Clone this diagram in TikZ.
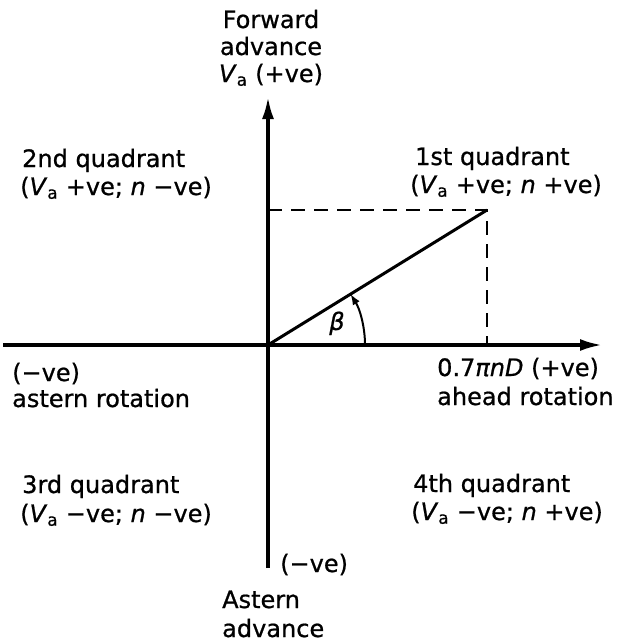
\documentclass[tikz,border=0pt]{standalone}
\usepackage{fontspec}
\setmainfont{DejaVu Sans}[RawFeature={embolden=0.8}]
\usetikzlibrary{arrows.meta,calc}
\begin{document}
\begin{tikzpicture}[x=1pt,y=-1pt,
  axis/.style={line width=3.2pt,-{Latex[length=22pt,width=12pt]}},
  guide/.style={line width=2.4pt,dash pattern=on 14pt off 9pt},
  lbl/.style={anchor=base west,inner sep=0pt,font=\fontsize{24}{28}\selectfont},
  clbl/.style={anchor=base,inner sep=0pt,font=\fontsize{24}{28}\selectfont}]
\useasboundingbox (0,0) rectangle (618,643);
\coordinate (O) at (268,345);
\coordinate (top) at (268,97);
\coordinate (bot) at (268,568);
\coordinate (left) at (3,345);
\coordinate (right) at (602,345);
\coordinate (P) at (487,210);
\coordinate (Py) at (268,210);
\coordinate (Px) at (487,345);
\draw[axis] (bot) -- (top);
\draw[axis] (left) -- (right);
\draw[guide] (Py) -- (P) -- (Px);
\draw[line width=3pt] (O) -- (P);
\draw[line width=2pt,-{Latex[length=11pt,width=8pt]}] ($(O)+(97,0)$) arc[start angle=0,end angle=-31.8,radius=97];
\node[clbl] (beta) at (337,330) {\itshape β};
% top label
\node[clbl] (fwd1) at (271,28) {Forward};
\node[clbl] (fwd2) at (271,55) {advance};
\node[clbl] (fwd3) at (271,82) {\textit{V}\textsubscript{a} (+ve)};
% quadrants
\node[lbl] (q2a) at (22,167) {2nd quadrant};
\node[lbl] (q2b) at (20,195) {(\textit{V}\textsubscript{a} +ve; \textit{n} −ve)};
\node[lbl] (q1a) at (415,165) {1st quadrant};
\node[lbl] (q1b) at (410,193) {(\textit{V}\textsubscript{a} +ve; \textit{n} +ve)};
\node[lbl] (q3a) at (22,493) {3rd quadrant};
\node[lbl] (q3b) at (20,522) {(\textit{V}\textsubscript{a} −ve; \textit{n} −ve)};
\node[lbl] (q4a) at (413,492) {4th quadrant};
\node[lbl] (q4b) at (411,520) {(\textit{V}\textsubscript{a} −ve; \textit{n} +ve)};
% horizontal axis labels
\node[lbl] (l1) at (12,381) {(−ve)};
\node[lbl] (l2) at (12,407) {astern rotation};
\node[lbl] (r1) at (437,376) {0.7\textit{πnD} (+ve)};
\node[lbl] (r2) at (437,405) {ahead rotation};
% bottom
\node[lbl] (b0) at (280,572) {(−ve)};
\node[lbl] (b1) at (222,608) {Astern};
\node[lbl] (b2) at (222,637) {advance};
\end{tikzpicture}
\end{document}
